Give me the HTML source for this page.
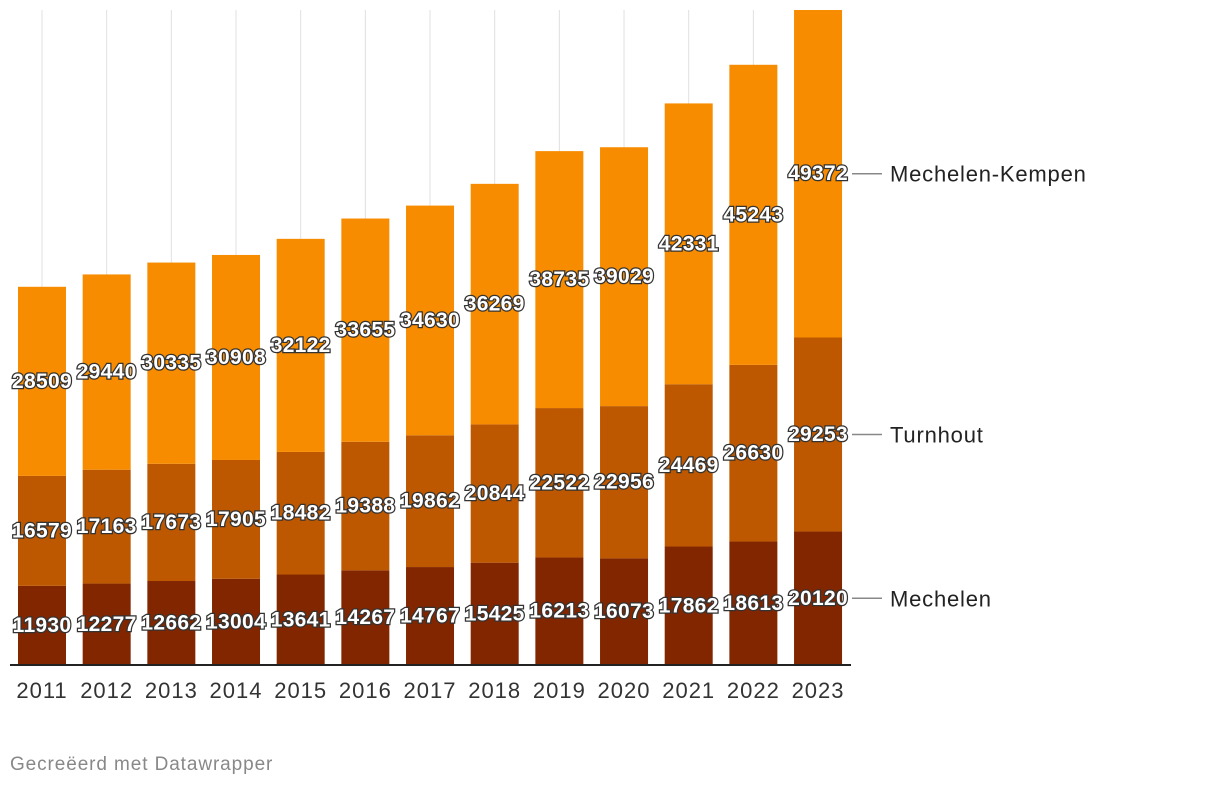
<!DOCTYPE html>
<html><head><meta charset="utf-8"><style>
body{margin:0;background:#fff;width:1220px;height:786px;overflow:hidden;font-family:"Liberation Sans",sans-serif}
svg text{font-family:"Liberation Sans",sans-serif}
.v{font-size:21px;font-weight:bold;letter-spacing:0.3px;fill:#fff;stroke:#333;stroke-width:2.5px;paint-order:stroke;text-anchor:middle;dominant-baseline:central}
</style></head><body>
<svg id="c" width="1220" height="786"></svg>
<script>
const years=[2011,2012,2013,2014,2015,2016,2017,2018,2019,2020,2021,2022,2023];
const mechelen=[11930,12277,12662,13004,13641,14267,14767,15425,16213,16073,17862,18613,20120];
const turnhout=[16579,17163,17673,17905,18482,19388,19862,20844,22522,22956,24469,26630,29253];
const kempen=[28509,29440,30335,30908,32122,33655,34630,36269,38735,39029,42331,45243,49372];
const seriesNames=["Mechelen","Turnhout","Mechelen-Kempen"];
const colors=["#822600","#bd5800","#f88c00"];
const NS="http://www.w3.org/2000/svg";
const svg=document.getElementById('c');
const base=665,top0=10,x0=18,step=64.67,bw=48;
const maxT=Math.max(...years.map((_,i)=>mechelen[i]+turnhout[i]+kempen[i]));
const y=v=>base-v*(base-top0)/maxT;
const xc=i=>x0+bw/2+i*step;
function el(t,a){const e=document.createElementNS(NS,t);for(const k in a)e.setAttribute(k,a[k]);svg.appendChild(e);return e;}
years.forEach((yr,i)=>{
  const g=el('line',{x1:xc(i),x2:xc(i),y1:top0,y2:base,stroke:'#e0e0e0','stroke-width':1});
  
  
});
const data=[mechelen,turnhout,kempen];
const labels=[];
years.forEach((yr,i)=>{
  let cum=0;
  data.forEach((s,k)=>{
    const r=el('rect',{x:xc(i)-bw/2,y:y(cum+s[i]),width:bw,height:y(cum)-y(cum+s[i]),fill:colors[k]});
    
    
    labels.push([xc(i),(y(cum)+y(cum+s[i]))/2,s[i],seriesNames[k]]);
    cum+=s[i];
  });
  const t=el('text',{x:xc(i),y:698,'font-size':22,'letter-spacing':1,fill:'#333','text-anchor':'middle'});
  t.textContent=yr;
  
  
});
const ax=el('line',{x1:10,x2:851,y1:base,y2:base,stroke:'#222','stroke-width':2});


labels.forEach(l=>{
  const t=el('text',{x:l[0],y:l[1],class:'v'});
  t.textContent=l[2];
  
  
});
const last=years.length-1;let cum=0;
data.forEach((s,k)=>{
  const my=(y(cum)+y(cum+s[last]))/2;cum+=s[last];
  const ln=el('line',{x1:852,x2:882,y1:my,y2:my,stroke:'#888','stroke-width':1.5});
  
  
  const t=el('text',{x:890,y:my+8,'font-size':22,'letter-spacing':0.8,fill:'#222'});
  t.textContent=seriesNames[k];
  
  
});
const f=el('text',{x:10,y:770,'font-size':19,'letter-spacing':0.9,fill:'#888'});
f.textContent='Gecreëerd met Datawrapper';


</script>
</body></html>
